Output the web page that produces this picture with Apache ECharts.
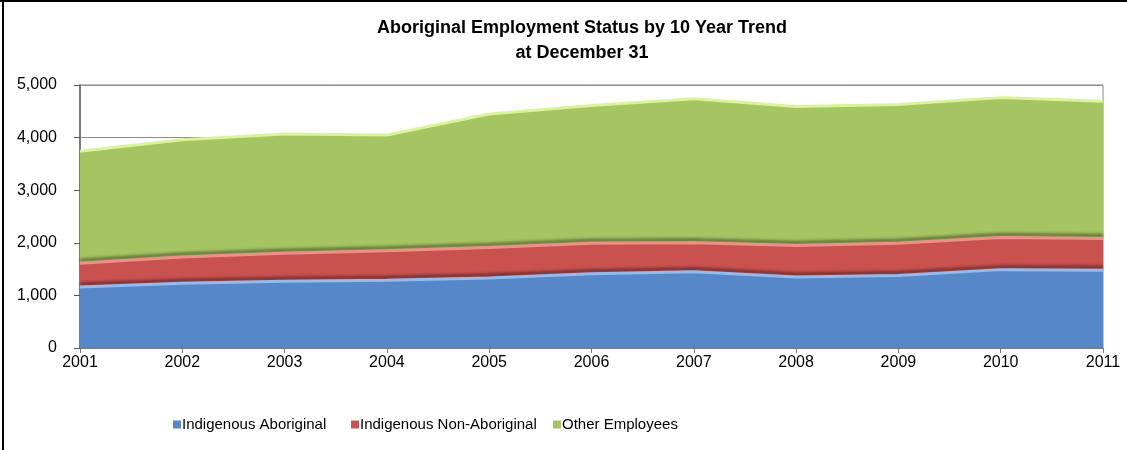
<!DOCTYPE html>
<html>
<head>
<meta charset="utf-8">
<script src="https://cdn.jsdelivr.net/npm/echarts@6/dist/echarts.min.js"></script>
<style>
  html, body { margin: 0; padding: 0; background: #fff; }
  #chart { width: 1127px; height: 450px; }
</style>
</head>
<body>
<div id="chart"></div>
<script>
// years on the x axis
const years = ["2001", "2002", "2003", "2004", "2005", "2006", "2007", "2008", "2009", "2010", "2011"];
// stacked values
const indigenousAboriginal = [1160, 1230, 1270, 1290, 1330, 1410, 1450, 1350, 1380, 1490, 1480];
const indigenousNonAboriginal = [450, 500, 530, 560, 580, 580, 550, 600, 610, 610, 600];
const otherEmployees = [2130, 2230, 2270, 2200, 2540, 2620, 2740, 2640, 2640, 2660, 2610];
const seriesNames = ["Indigenous Aboriginal", "Indigenous Non-Aboriginal", "Other Employees"];

const font = "'Liberation Sans', Arial, sans-serif";
const narrow = "'Liberation Sans Narrow', 'Arial Narrow', 'Liberation Sans', sans-serif";
const fills = ["#5688c9", "#c9524f", "#a5c462"];
const edges = ["#8dbdf5", "#f58c8a", "#d9f596"];
const values = [indigenousAboriginal, indigenousNonAboriginal, otherEmployees];
const legendLeft = [168, 346, 548];

const chart = echarts.init(document.getElementById("chart"));

const areaSeries = values.map((data, i) => ({
  name: seriesNames[i],
  type: "line",
  stack: "total",
  data,
  symbol: "none",
  lineStyle: { width: 0 },
  itemStyle: { color: fills[i] },
  areaStyle: { color: fills[i], opacity: 1 },
  z: 2
}));
// light top edges, the lower two cast a dark shade upwards (bevel look)
const edgeSeries = values.map((data, i) => ({
  name: "edge" + i,
  type: "line",
  stack: "edges",
  data,
  symbol: "none",
  lineStyle: {
    width: 3,
    color: edges[i],
    shadowColor: i < 2 ? "rgba(0,0,0,0.45)" : "rgba(0,0,0,0)",
    shadowBlur: 3,
    shadowOffsetY: -3
  },
  z: 3,
  silent: true
}));

// one legend per item so each sits where the original has it
const legends = seriesNames.map((name, i) => ({
  data: [name],
  left: legendLeft[i],
  top: 412,
  icon: "rect",
  itemWidth: 8,
  itemHeight: 8,
  textStyle: { fontFamily: narrow, fontSize: 15, color: "#000", padding: [0, 0, 0, -4] }
}));

chart.setOption({
  animation: false,
  title: {
    text: "Aboriginal Employment Status by 10 Year Trend\nat December 31",
    left: 577,
    top: 11,
    textAlign: "center",
    textStyle: { fontFamily: font, fontSize: 18, fontWeight: "bold", color: "#000", lineHeight: 25 }
  },
  legend: legends,
  grid: {
    left: 80,
    right: 24,
    top: 85,
    bottom: 102,
    show: true,
    borderColor: "#8a8a8a",
    borderWidth: 1
  },
  xAxis: {
    type: "category",
    data: years,
    boundaryGap: false,
    axisLine: { lineStyle: { color: "#7a7a7a", width: 1 } },
    axisTick: { length: 5, lineStyle: { color: "#7a7a7a" } },
    axisLabel: { fontFamily: font, fontSize: 16, color: "#000", margin: 7 }
  },
  yAxis: {
    type: "value",
    min: 0,
    max: 5000,
    interval: 1000,
    axisLine: { show: true, lineStyle: { color: "#7a7a7a", width: 2 } },
    axisTick: { show: true, length: 6, lineStyle: { color: "#555" } },
    splitLine: { lineStyle: { color: "#8a8a8a", width: 1 } },
    axisLabel: {
      fontFamily: font,
      fontSize: 16,
      color: "#000",
      margin: 23,
      formatter: v => v.toLocaleString("en-US")
    }
  },
  graphic: [
    { type: "line", shape: { x1: 0, y1: 1, x2: 1127, y2: 1 }, style: { stroke: "#000", lineWidth: 2 } },
    { type: "line", shape: { x1: 3, y1: 0, x2: 3, y2: 450 }, style: { stroke: "#000", lineWidth: 2 } }
  ],
  series: areaSeries.concat(edgeSeries)
});
</script>
</body>
</html>
